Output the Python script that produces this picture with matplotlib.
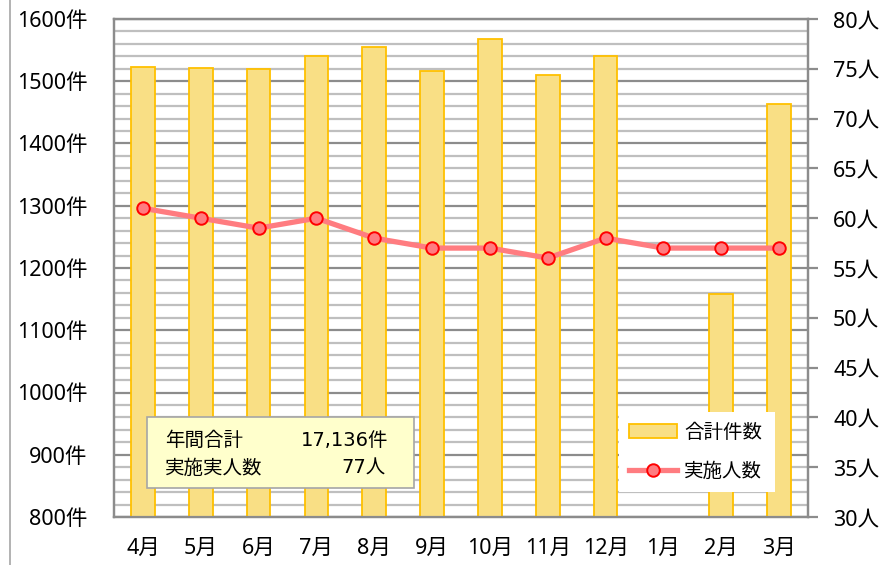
import numpy as np
import matplotlib
matplotlib.use("Agg")
import matplotlib.pyplot as plt
from matplotlib.patches import Rectangle
from matplotlib.lines import Line2D

plt.rcParams['font.family'] = ['Noto Sans', 'Noto Sans CJK JP', 'DejaVu Sans']

months = ["4月", "5月", "6月", "7月", "8月", "9月", "10月", "11月", "12月", "1月", "2月", "3月"]
counts = [1523, 1521, 1520, 1540, 1555, 1516, 1568, 1510, 1540, 721, 1158, 1464]
people = [61, 60, 59, 60, 58, 57, 57, 56, 58, 57, 57, 57]
left_ticks = [800, 900, 1000, 1100, 1200, 1300, 1400, 1500, 1600]
right_ticks = [30, 35, 40, 45, 50, 55, 60, 65, 70, 75, 80]
total_label = "17,136件"
people_total_label = "77人"

W, H = 883, 565
fig = plt.figure(figsize=(W / 100, H / 100), dpi=100)

def fx(px):
    return px / W

def fy(py):
    return 1 - py / H

L, R, T, B = 114, 808, 19, 517
ax = fig.add_axes([fx(L), fy(B), fx(R) - fx(L), fy(T) - fy(B)])
ax2 = ax.twinx()

x = np.arange(len(months))
bar_color = "#F9DF85"
bar_edge = "#FFC000"
bars = ax.bar(x, counts, width=0.41, color=bar_color, edgecolor=bar_edge, linewidth=1.3,
              label="合計件数", zorder=3)

ax.set_xlim(-0.5, len(months) - 0.5)
ax.set_ylim(800, 1600)
ax.set_yticks(left_ticks)
ax.set_yticklabels([f"{v}件" for v in left_ticks], fontsize=15.5)
ax.set_yticks(np.arange(800, 1601, 20), minor=True)
ax.grid(axis='y', which='minor', color='#BFBFBF', linewidth=1.6, zorder=0)
ax.grid(axis='y', which='major', color='#8C8C8C', linewidth=1.6, zorder=0)
ax.tick_params(axis='y', which='both', length=0, pad=19)
ax.set_xticks(x)
ax.set_xticklabels(months, fontsize=15.5)
ax.tick_params(axis='x', length=0, pad=15)
for s in ax.spines.values():
    s.set_color('#8C8C8C')
    s.set_linewidth(1.6)
ax.set_axisbelow(True)

line_color = "#FF7C80"
ax2.plot(x, people, color=line_color, linewidth=3.8, marker='o', markersize=9,
         markerfacecolor=line_color, markeredgecolor='#FF0000', markeredgewidth=1.4,
         label="実施人数", zorder=5)
ax2.set_ylim(30, 80)
ax2.set_yticks(right_ticks)
ax2.set_yticklabels([f"{v}人" for v in right_ticks], fontsize=15.5)
ax2.tick_params(axis='y', direction='out', length=7, width=1.6, color='#8C8C8C', pad=11)
for s in ax2.spines.values():
    s.set_color('#8C8C8C')
    s.set_linewidth(1.6)

# summary box
box = Rectangle((fx(147), fy(488)), fx(414) - fx(147), fy(417) - fy(488),
                transform=fig.transFigure, facecolor='#FFFFCC', edgecolor='#A6A6A6',
                linewidth=1.2, zorder=10)
fig.add_artist(box)
bfam = ['Noto Sans CJK JP', 'DejaVu Sans']
nfam = ['DejaVu Sans', 'Noto Sans CJK JP']
fig.text(fx(165), fy(440), "年間合計", fontsize=14, va='center', ha='left', zorder=11, family=bfam)
fig.text(fx(388), fy(440), total_label, fontsize=14, va='center', ha='right', zorder=11, family=nfam)
fig.text(fx(165), fy(468), "実施実人数", fontsize=14, va='center', ha='left', zorder=11, family=bfam)
fig.text(fx(386), fy(468), people_total_label, fontsize=14, va='center', ha='right', zorder=11, family=nfam)

# legend
h1, l1 = ax.get_legend_handles_labels()
h2, l2 = ax2.get_legend_handles_labels()
leg = ax2.legend(h1 + h2, l1 + l2, loc='lower left',
                 bbox_to_anchor=(fx(619), fy(492), fx(775) - fx(619), fy(419) - fy(492)),
                 bbox_transform=fig.transFigure, mode='expand',
                 prop={'family': bfam, 'size': 14},
                 frameon=True, fancybox=False, framealpha=1, edgecolor='white',
                 handlelength=2.5, handletextpad=0.35, labelspacing=0.95, borderpad=0.5,
                 borderaxespad=0)
leg.get_frame().set_linewidth(0)
leg.set_zorder(12)

# left image border
fig.add_artist(Line2D([fx(10), fx(10)], [0, 1], transform=fig.transFigure,
                      color='#A6A6A6', linewidth=1.2))

fig.savefig("out.png", dpi=100)
